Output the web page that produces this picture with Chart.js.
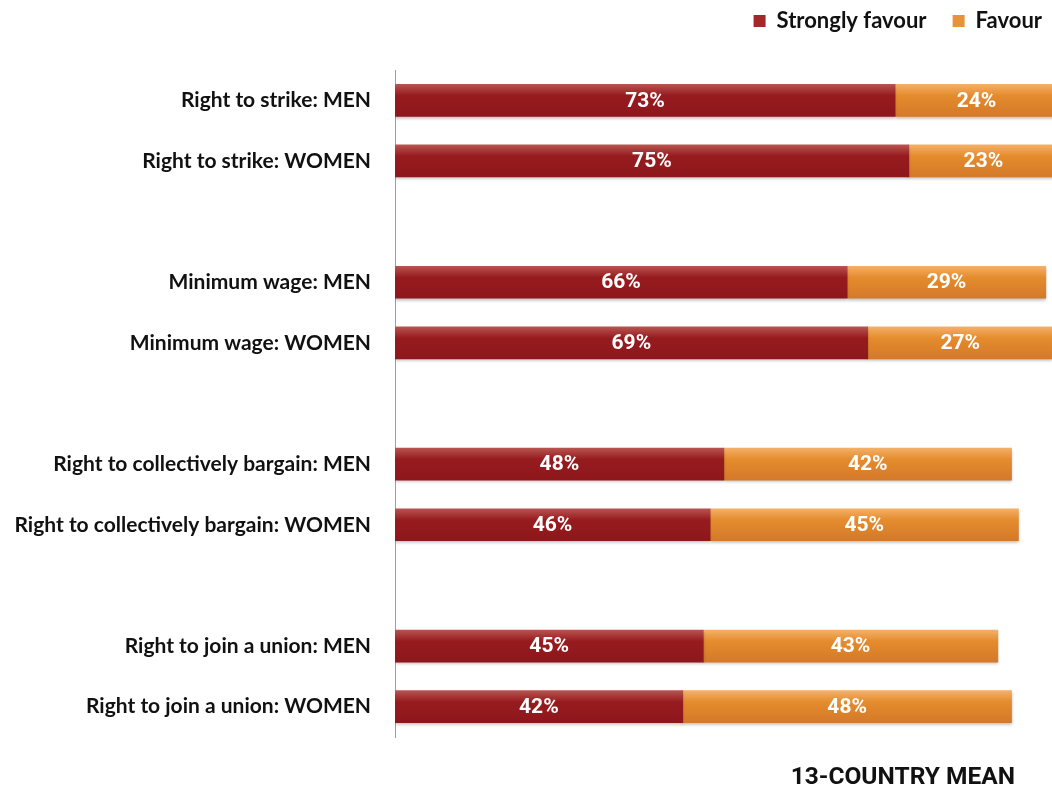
<!DOCTYPE html>
<html>
<head>
<meta charset="utf-8">
<script src="https://cdn.jsdelivr.net/npm/chart.js@4/dist/chart.umd.min.js"></script>
<style>
  html,body{margin:0;padding:0;background:#fff;}
  #wrap{width:1052px;height:792px;position:relative;}
</style>
</head>
<body>
<div id="wrap"><canvas id="c" width="1052" height="792"></canvas></div>
<script>
const categories = [
  'Right to strike: MEN', 'Right to strike: WOMEN', '',
  'Minimum wage: MEN', 'Minimum wage: WOMEN', '',
  'Right to collectively bargain: MEN', 'Right to collectively bargain: WOMEN', '',
  'Right to join a union: MEN', 'Right to join a union: WOMEN'
];
const stronglyFavour = [73, 75, null, 66, 69, null, 48, 46, null, 45, 42];
const favour = [24, 23, null, 29, 27, null, 42, 45, null, 43, 48];
const seriesNames = ['Strongly favour', 'Favour'];
const chartTitle = '13-COUNTRY MEAN';

const redStops = [[0, '#b8544f'], [0.35, '#961b1f'], [1, '#8e171b']];
const orangeStops = [[0, '#f4b068'], [0.35, '#e48c2d'], [1, '#d4792a']];
const redSolid = '#93191d';
const orangeSolid = '#e08a2e';

function barGradient(stops, solid) {
  return function(ctx) {
    const chart = ctx.chart;
    const y = chart.scales && chart.scales.y;
    if (!chart.chartArea || !y || ctx.type !== 'data') return solid;
    const yc = y.getPixelForValue(ctx.dataIndex);
    const h = 32;
    const g = chart.ctx.createLinearGradient(0, yc - h / 2, 0, yc + h / 2);
    stops.forEach(s => g.addColorStop(s[0], s[1]));
    return g;
  };
}

const labelPlugin = {
  id: 'barLabels',
  beforeInit(chart) {
    const origFit = chart.legend.fit;
    chart.legend.fit = function() {
      origFit.call(this);
      this.height += 28;
    };
  },
  beforeDatasetsDraw(chart) {
    const c = chart.ctx;
    c.save();
    c.shadowColor = 'rgba(0,0,0,0.28)';
    c.shadowOffsetY = 2;
    c.shadowBlur = 3;
  },
  afterDatasetsDraw(chart) {
    const c = chart.ctx;
    c.restore();
    c.save();
    c.beginPath();
    c.rect(chart.chartArea.left, chart.chartArea.top, chart.chartArea.width, chart.chartArea.height);
    c.clip();
    c.fillStyle = '#ffffff';
    c.font = 'bold 21px Roboto';
    c.textAlign = 'center';
    c.textBaseline = 'middle';
    chart.data.datasets.forEach((ds, di) => {
      const meta = chart.getDatasetMeta(di);
      meta.data.forEach((el, i) => {
        const v = ds.data[i];
        if (v == null) return;
        const left = Math.min(el.x, el.base);
        const right = Math.min(Math.max(el.x, el.base), chart.chartArea.right + 6);
        c.fillText(v + '%', (left + right) / 2, el.y + 1);
      });
    });
    c.restore();
  },
  afterDraw(chart) {
    const c = chart.ctx;
    c.save();
    c.fillStyle = '#111111';
    c.font = 'bold 24.5px Roboto';
    c.textAlign = 'right';
    c.textBaseline = 'middle';
    c.fillText(chartTitle, 1015, 778);
    c.restore();
  }
};

new Chart(document.getElementById('c'), {
  type: 'bar',
  data: {
    labels: categories,
    datasets: [
      {
        label: seriesNames[0],
        data: stronglyFavour,
        backgroundColor: barGradient(redStops, redSolid),
        borderWidth: 0,
        barThickness: 32
      },
      {
        label: seriesNames[1],
        data: favour,
        backgroundColor: barGradient(orangeStops, orangeSolid),
        borderWidth: 0,
        barThickness: 32
      }
    ]
  },
  options: {
    indexAxis: 'y',
    responsive: false,
    animation: false,
    layout: { padding: { top: 0, right: 0, bottom: 55, left: 0 } },
    scales: {
      x: {
        stacked: true,
        display: false,
        min: 0,
        max: 95.9
      },
      y: {
        stacked: true,
        grid: { display: false, drawTicks: false },
        border: { display: true, color: '#a0a0a0', width: 1 },
        ticks: {
          color: '#111111',
          font: { family: 'Lato', weight: 'bold', size: 21 },
          padding: 24
        },
        afterFit(scale) { scale.width = 395; }
      }
    },
    plugins: {
      legend: {
        display: true,
        position: 'top',
        align: 'end',
        labels: {
          boxWidth: 12,
          boxHeight: 12,
          padding: 10,
          color: '#111111',
          font: { family: 'Lato', weight: 'bold', size: 22 },
          generateLabels(chart) {
            return chart.data.datasets.map((ds, i) => ({
              text: i === 0 ? ds.label + '   ' : ds.label,
              fillStyle: i === 0 ? '#a3282a' : '#e8923a',
              strokeStyle: 'rgba(0,0,0,0)',
              lineWidth: 0,
              datasetIndex: i,
              hidden: false,
              fontColor: '#111111'
            }));
          }
        }
      },
      title: { display: false },
      tooltip: { enabled: false }
    }
  },
  plugins: [labelPlugin]
});
</script>
</body>
</html>
